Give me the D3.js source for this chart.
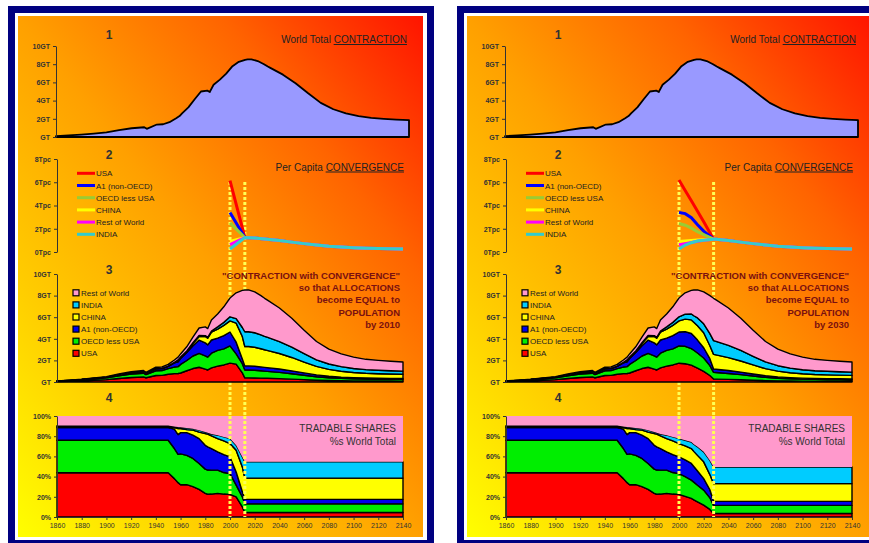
<!DOCTYPE html>
<html lang="en">
<head>
<meta charset="utf-8">
<title>Contraction and Convergence</title>
<script src="https://d3js.org/d3.v7.min.js"></script>
<style>
	body { margin: 0; background: #fff; }
	svg { display: block; font-family: "Liberation Sans", Arial, sans-serif; }
</style>
</head>
<body>
<div id="chart"></div>
<script>
// Years shared by the totals and the shares
const years = [1860, 1870, 1880, 1890, 1900, 1910, 1920, 1930, 1932, 1940, 1945, 1950,
	1955, 1958, 1960, 1965, 1970, 1975, 1980, 1982, 1985, 1990, 1995, 2000,
	2005, 2010, 2012, 2015, 2020, 2025, 2028, 2030, 2040, 2050, 2060, 2070, 2080,
	2090, 2100, 2110, 2120, 2130, 2140];

// World total, GT carbon
const worldTotal = [0.1, 0.17, 0.26, 0.38, 0.5, 0.75, 0.96, 1.07, 0.9, 1.37, 1.4, 1.63,
	2.04, 2.3, 2.6, 3.26, 4.15, 5.0, 5.1, 4.95, 5.74, 6.3, 6.96, 7.78,
	8.26, 8.48, 8.52, 8.53, 8.35, 8.0, 7.75, 7.6, 6.85, 5.9, 4.8, 3.75, 3.05,
	2.6, 2.3, 2.1, 2.0, 1.92, 1.85];

// Shares of world total (%), 1860-2000
const usaHist = [43.8, 43.8, 43.8, 43.8, 43.8, 43.8, 43.8, 43.8, 43.8, 43.8, 43.8, 43.8, 38, 34, 32, 32, 30, 27.3, 23.4, 22.5, 22.7, 23.4, 22.7, 22.4];
const oecdHist = [32.2, 32.2, 32.2, 32.2, 32.2, 32.2, 32.2, 32.2, 32.2, 32.2, 32.2, 32.2, 29.8, 28, 30.5, 29, 28, 25.7, 24, 24, 23.7, 23, 21.3, 20.6];
const a1Hist = [12.5, 12.5, 12.5, 12.5, 12.5, 12.5, 12.5, 12.5, 12.5, 12.5, 12.5, 12.5, 19.2, 19.6, 21, 22.5, 23, 24.6, 23.6, 23, 21.4, 18.1, 17.8, 16.5];
const chinaHist = [1, 1, 1, 1, 1, 1, 1, 1, 1, 1, 1, 1, 1.5, 5.9, 4, 3, 5, 6.4, 11.6, 12.5, 12.5, 13.1, 13.5, 13.2];
const indiaHist = [1, 1, 1, 1, 1, 1, 1, 1, 1, 1, 1, 1, 1, 1.5, 1.3, 1.5, 1.5, 2, 1.6, 1.5, 1.9, 3.4, 4, 4.9];
const rowHist = [9.5, 9.5, 9.5, 9.5, 9.5, 9.5, 9.5, 9.5, 9.5, 9.5, 9.5, 9.5, 10.5, 11, 11.2, 12, 12.5, 14, 15.8, 16.5, 17.8, 19, 20.7, 22.4];

// Shares (%), 2005-2140, convergence by 2010
const usaFutA = [20, 10, 4.5, 4.5, 4.5, 4.5, 4.5, 4.5, 4.5, 4.5, 4.5, 4.5, 4.5, 4.5, 4.5, 4.5, 4.5, 4.5, 4.5];
const oecdFutA = [11.5, 10, 8.5, 8.5, 8.5, 8.5, 8.5, 8.5, 8.5, 8.5, 8.5, 8.5, 8.5, 8.5, 8.5, 8.5, 8.5, 8.5, 8.5];
const a1FutA = [13.1, 5, 4.5, 4.5, 4.5, 4.5, 4.5, 4.5, 4.5, 4.5, 4.5, 4.5, 4.5, 4.5, 4.5, 4.5, 4.5, 4.5, 4.5];
const chinaFutA = [21.4, 24.6, 21, 21, 21, 21, 21, 21, 21, 21, 21, 21, 21, 21, 21, 21, 21, 21, 21];
const indiaFutA = [5, 9.9, 16.1, 16.1, 16.1, 16.1, 16.1, 16.1, 16.1, 16.1, 16.1, 16.1, 16.1, 16.1, 16.1, 16.1, 16.1, 16.1, 16.1];
const rowFutA = [29, 40.5, 45.4, 45.4, 45.4, 45.4, 45.4, 45.4, 45.4, 45.4, 45.4, 45.4, 45.4, 45.4, 45.4, 45.4, 45.4, 45.4, 45.4];

// Shares (%), 2005-2140, convergence by 2030
const usaFutB = [20.5, 18.4, 17, 15, 11.8, 7.5, 3.5, 3.5, 3.5, 3.5, 3.5, 3.5, 3.5, 3.5, 3.5, 3.5, 3.5, 3.5, 3.5];
const oecdFutB = [19.5, 18.1, 17.5, 16.5, 14.8, 11.5, 8, 8, 8, 8, 8, 8, 8, 8, 8, 8, 8, 8, 8];
const a1FutB = [16.5, 16.5, 15.5, 14, 11.4, 8, 4, 4, 4, 4, 4, 4, 4, 4, 4, 4, 4, 4, 4];
const chinaFutB = [14, 14.8, 15, 15.5, 16.6, 15, 17.5, 17.5, 17.5, 17.5, 17.5, 17.5, 17.5, 17.5, 17.5, 17.5, 17.5, 17.5, 17.5];
const indiaFutB = [5.5, 6.5, 7, 8.5, 9.9, 14, 16.5, 16.5, 16.5, 16.5, 16.5, 16.5, 16.5, 16.5, 16.5, 16.5, 16.5, 16.5, 16.5];
const rowFutB = [24, 25.7, 28, 30.5, 35.5, 44, 50.5, 50.5, 50.5, 50.5, 50.5, 50.5, 50.5, 50.5, 50.5, 50.5, 50.5, 50.5, 50.5];

// Per capita (tonnes carbon per person)
const pcTailYears = [2030, 2040, 2050, 2060, 2070, 2080, 2090, 2100, 2110, 2120, 2130, 2140];
const pcTail = [1.1, 0.98, 0.85, 0.72, 0.6, 0.5, 0.43, 0.37, 0.33, 0.3, 0.28, 0.26];

const pcLeadYearsA = [2000, 2012, 2020];
const pcUsaA = [6.15, 1.25, 1.2];
const pcA1A = [3.4, 1.25, 1.2];
const pcOecdA = [2.5, 1.25, 1.2];
const pcChinaA = [0.9, 1.25, 1.2];
const pcRowA = [0.63, 1.25, 1.2];
const pcIndiaA = [0.26, 1.25, 1.2];

const pcLeadYearsB = [2000, 2005, 2010, 2015, 2020, 2028];
const pcUsaB = [6.2, 5.3, 4.4, 3.5, 2.6, 1.1];
const pcA1B = [3.4, 3.3, 2.95, 2.35, 1.8, 1.1];
const pcOecdB = [2.45, 2.3, 2.05, 1.75, 1.5, 1.1];
const pcChinaB = [0.9, 0.95, 1.0, 1.03, 1.06, 1.1];
const pcRowB = [0.62, 0.72, 0.82, 0.92, 1.0, 1.1];
const pcIndiaB = [0.26, 0.6, 0.8, 0.95, 1.02, 1.1];

// Ticks
const tickYears = [1860, 1880, 1900, 1920, 1940, 1960, 1980, 2000, 2020, 2040, 2060, 2080, 2100, 2120, 2140];
const gtTicks = [0, 2, 4, 6, 8, 10];
const pcTicks = [0, 2, 4, 6, 8];
const pctTicks = [0, 20, 40, 60, 80, 100];

// Regions
const stackKeys = ["usa", "oecd", "a1", "china", "india", "row"];
const stackNames = { usa: "USA", oecd: "OECD less USA", a1: "A1 (non-OECD)", china: "CHINA", india: "INDIA", row: "Rest of World" };
const stackColors = { usa: "#ff0000", oecd: "#00ee00", a1: "#0000ee", china: "#ffff00", india: "#00ccff", row: "#ff99cc" };
const pcKeys = ["usa", "a1", "oecd", "china", "row", "india"];
const pcColors = { usa: "#ff0000", a1: "#0000ff", oecd: "#99cc33", china: "#ffff00", row: "#ff00ff", india: "#33cccc" };

const scenarios = [
	{
		offset: 0, by: "by 2010", marks: [2000, 2012],
		shares: [usaHist.concat(usaFutA), oecdHist.concat(oecdFutA), a1Hist.concat(a1FutA),
			chinaHist.concat(chinaFutA), indiaHist.concat(indiaFutA), rowHist.concat(rowFutA)],
		pcYears: pcLeadYearsA.concat(pcTailYears),
		pc: [pcUsaA, pcA1A, pcOecdA, pcChinaA, pcRowA, pcIndiaA].map(a => a.concat(pcTail))
	},
	{
		offset: 449, by: "by 2030", marks: [2000, 2028],
		shares: [usaHist.concat(usaFutB), oecdHist.concat(oecdFutB), a1Hist.concat(a1FutB),
			chinaHist.concat(chinaFutB), indiaHist.concat(indiaFutB), rowHist.concat(rowFutB)],
		pcYears: pcLeadYearsB.concat(pcTailYears),
		pc: [pcUsaB, pcA1B, pcOecdB, pcChinaB, pcRowB, pcIndiaB].map(a => a.concat(pcTail))
	}
];

const width = 869;
const height = 543;

const svg = d3.select("#chart")
	.append("svg")
	.attr("width", width)
	.attr("height", height);

const grad = svg.append("defs").append("linearGradient")
	.attr("id", "bg")
	.attr("x1", 0).attr("y1", 1).attr("x2", 1).attr("y2", 0);
[["0%", "#ffff00"], ["25%", "#ffcc00"], ["50%", "#ffa000"], ["75%", "#ff6400"], ["100%", "#ff1400"]]
	.forEach(s => grad.append("stop").attr("offset", s[0]).attr("stop-color", s[1]));

function styleAxis(g, size, bold) {
	g.attr("font-family", null).attr("font-size", null);
	g.select(".domain").attr("stroke", "#333");
	g.selectAll(".tick line").attr("stroke", "#333");
	g.selectAll(".tick text")
		.attr("font-size", size)
		.attr("font-weight", bold ? "bold" : "normal")
		.attr("fill", "#333");
}

function dotted(g, x, marks, y0, y1) {
	g.selectAll(null)
		.data(marks)
		.enter()
		.append("line")
		.attr("x1", d => x(d)).attr("x2", d => x(d))
		.attr("y1", y0).attr("y2", y1)
		.attr("stroke", "#ffff55")
		.attr("stroke-width", 3)
		.attr("stroke-dasharray", "3 2");
}

function drawScenario(sc) {
	const root = svg.append("g").attr("transform", `translate(${sc.offset},0)`);

	// Frame
	root.append("rect").attr("x", 8).attr("y", 6).attr("width", 426).attr("height", 545).attr("fill", "#000080");
	root.append("rect").attr("x", 15).attr("y", 13).attr("width", 412).attr("height", 527).attr("fill", "#fff");
	root.append("rect").attr("x", 18).attr("y", 16).attr("width", 405).attr("height", 521).attr("fill", "url(#bg)");

	// Rows of shares and absolute values
	const shareRows = years.map((yr, i) => {
		const r = { year: yr };
		stackKeys.forEach((k, j) => r[k] = sc.shares[j][i]);
		return r;
	});
	const absRows = shareRows.map((r, i) => {
		const a = { year: r.year };
		stackKeys.forEach(k => a[k] = r[k] * worldTotal[i] / 100);
		return a;
	});
	const stack = d3.stack().keys(stackKeys);

	const x = d3.scaleLinear().domain([1860, 2140]).range([57, 403]);

	// ---- Panel 1: world total
	const x1 = d3.scaleLinear().domain([1860, 2140]).range([56, 409]);
	const y1 = d3.scaleLinear().domain([0, 10]).range([137, 46]);

	root.append("path")
		.datum(worldTotal)
		.attr("d", d3.area().x((d, i) => x1(years[i])).y0(y1(0)).y1(d => y1(d)))
		.attr("fill", "#9999ff")
		.attr("stroke", "#000")
		.attr("stroke-width", 1.8)
		.attr("stroke-linejoin", "round");

	root.append("g")
		.attr("transform", "translate(56,0)")
		.call(d3.axisLeft(y1).tickValues(gtTicks).tickFormat(d => d ? d + "GT" : "GT").tickSize(3).tickSizeOuter(0))
		.call(g => styleAxis(g, 7, true));

	// ---- Dotted markers (behind panels 3)
	dotted(root, x, sc.marks, 182, 517);

	// ---- Panel 2: per capita
	const y2 = d3.scaleLinear().domain([0, 8]).range([252, 159]);
	const pcLine = d3.line().x((d, i) => x(sc.pcYears[i])).y(d => y2(d));

	root.append("g")
		.selectAll("path")
		.data(sc.pc)
		.enter()
		.append("path")
		.attr("d", pcLine)
		.attr("fill", "none")
		.attr("stroke", (d, i) => pcColors[pcKeys[i]])
		.attr("stroke-width", 3);

	root.append("g")
		.attr("transform", "translate(57,0)")
		.call(d3.axisLeft(y2).tickValues(pcTicks).tickFormat(d => d + "Tpc").tickSize(3).tickSizeOuter(0))
		.call(g => styleAxis(g, 7, true));

	const leg2 = root.append("g").selectAll("g")
		.data(pcKeys)
		.enter()
		.append("g")
		.attr("transform", (d, i) => `translate(77,${173.3 + i * 12.2})`);
	leg2.append("line").attr("x1", 0).attr("x2", 18).attr("stroke", d => pcColors[d]).attr("stroke-width", 3);
	leg2.append("text").attr("x", 19).attr("y", 3).attr("font-size", 8).attr("fill", "#222").text(d => stackNames[d]);

	// ---- Panel 3: stacked absolute
	const y3 = d3.scaleLinear().domain([0, 10]).range([382, 274]);
	const area3 = d3.area().x(d => x(d.data.year)).y0(d => y3(d[0])).y1(d => y3(d[1]));

	root.append("g")
		.selectAll("path")
		.data(stack(absRows))
		.enter()
		.append("path")
		.attr("d", area3)
		.attr("fill", d => stackColors[d.key])
		.attr("stroke", "#000")
		.attr("stroke-width", 1.4)
		.attr("stroke-linejoin", "round");

	root.append("g")
		.attr("transform", "translate(57,0)")
		.call(d3.axisLeft(y3).tickValues(gtTicks).tickFormat(d => d ? d + "GT" : "GT").tickSize(3).tickSizeOuter(0))
		.call(g => styleAxis(g, 7, true));

	const leg3 = root.append("g").selectAll("g")
		.data(stackKeys.slice().reverse())
		.enter()
		.append("g")
		.attr("transform", (d, i) => `translate(73,${293.3 + i * 12.1})`);
	leg3.append("rect").attr("x", 0).attr("y", -3.5).attr("width", 6).attr("height", 6)
		.attr("fill", d => stackColors[d]).attr("stroke", "#000").attr("stroke-width", 1.2);
	leg3.append("text").attr("x", 8).attr("y", 2.5).attr("font-size", 8).attr("fill", "#222").text(d => stackNames[d]);

	// ---- Panel 4: stacked shares
	const y4 = d3.scaleLinear().domain([0, 100]).range([517, 416]);
	const area4 = d3.area().x(d => x(d.data.year)).y0(d => y4(d[0])).y1(d => y4(d[1]));

	root.append("g")
		.selectAll("path")
		.data(stack(shareRows))
		.enter()
		.append("path")
		.attr("d", area4)
		.attr("fill", d => stackColors[d.key])
		.attr("stroke", d => d.key === "row" ? "none" : "#000")
		.attr("stroke-width", 1.4)
		.attr("stroke-linejoin", "round");

	dotted(root, x, sc.marks, 416, 517);

	root.append("g")
		.attr("transform", "translate(57,0)")
		.call(d3.axisLeft(y4).tickValues(pctTicks).tickFormat(d => d + "%").tickSize(3).tickSizeOuter(0))
		.call(g => styleAxis(g, 7, true));

	root.append("g")
		.attr("transform", "translate(0,517)")
		.call(d3.axisBottom(x).tickValues(tickYears).tickFormat(d3.format("d")).tickSize(3).tickSizeOuter(0))
		.call(g => styleAxis(g, 7, false));

	// ---- Titles
	[["1", 39], ["2", 159], ["3", 274], ["4", 402]].forEach(t => {
		root.append("text").attr("x", 109).attr("y", t[1]).attr("text-anchor", "middle")
			.attr("font-size", 12).attr("font-weight", "bold").attr("fill", "#333").text(t[0]);
	});

	const t1 = root.append("text").attr("x", 407).attr("y", 43).attr("text-anchor", "end")
		.attr("font-size", 10).attr("fill", "#222");
	t1.append("tspan").text("World Total ");
	t1.append("tspan").attr("text-decoration", "underline").text("CONTRACTION");

	const t2 = root.append("text").attr("x", 404).attr("y", 170.5).attr("text-anchor", "end")
		.attr("font-size", 10).attr("fill", "#222");
	t2.append("tspan").text("Per Capita ");
	t2.append("tspan").attr("text-decoration", "underline").text("CONVERGENCE");

	const t3 = ['"CONTRACTION with CONVERGENCE"', "so that ALLOCATIONS", "become EQUAL to", "POPULATION", sc.by];
	root.append("g").selectAll("text")
		.data(t3)
		.enter()
		.append("text")
		.attr("x", 400)
		.attr("y", (d, i) => 278.5 + i * 12.4)
		.attr("text-anchor", "end")
		.attr("font-size", 9.5)
		.attr("font-weight", "bold")
		.attr("fill", "#7a1010")
		.text(d => d);

	["TRADABLE SHARES", "%s World Total"].forEach((s, i) => {
		root.append("text").attr("x", 396).attr("y", 432 + i * 12.5).attr("text-anchor", "end")
			.attr("font-size", 10).attr("fill", "#333").text(s);
	});
}

scenarios.forEach(drawScenario);
</script>
</body>
</html>
